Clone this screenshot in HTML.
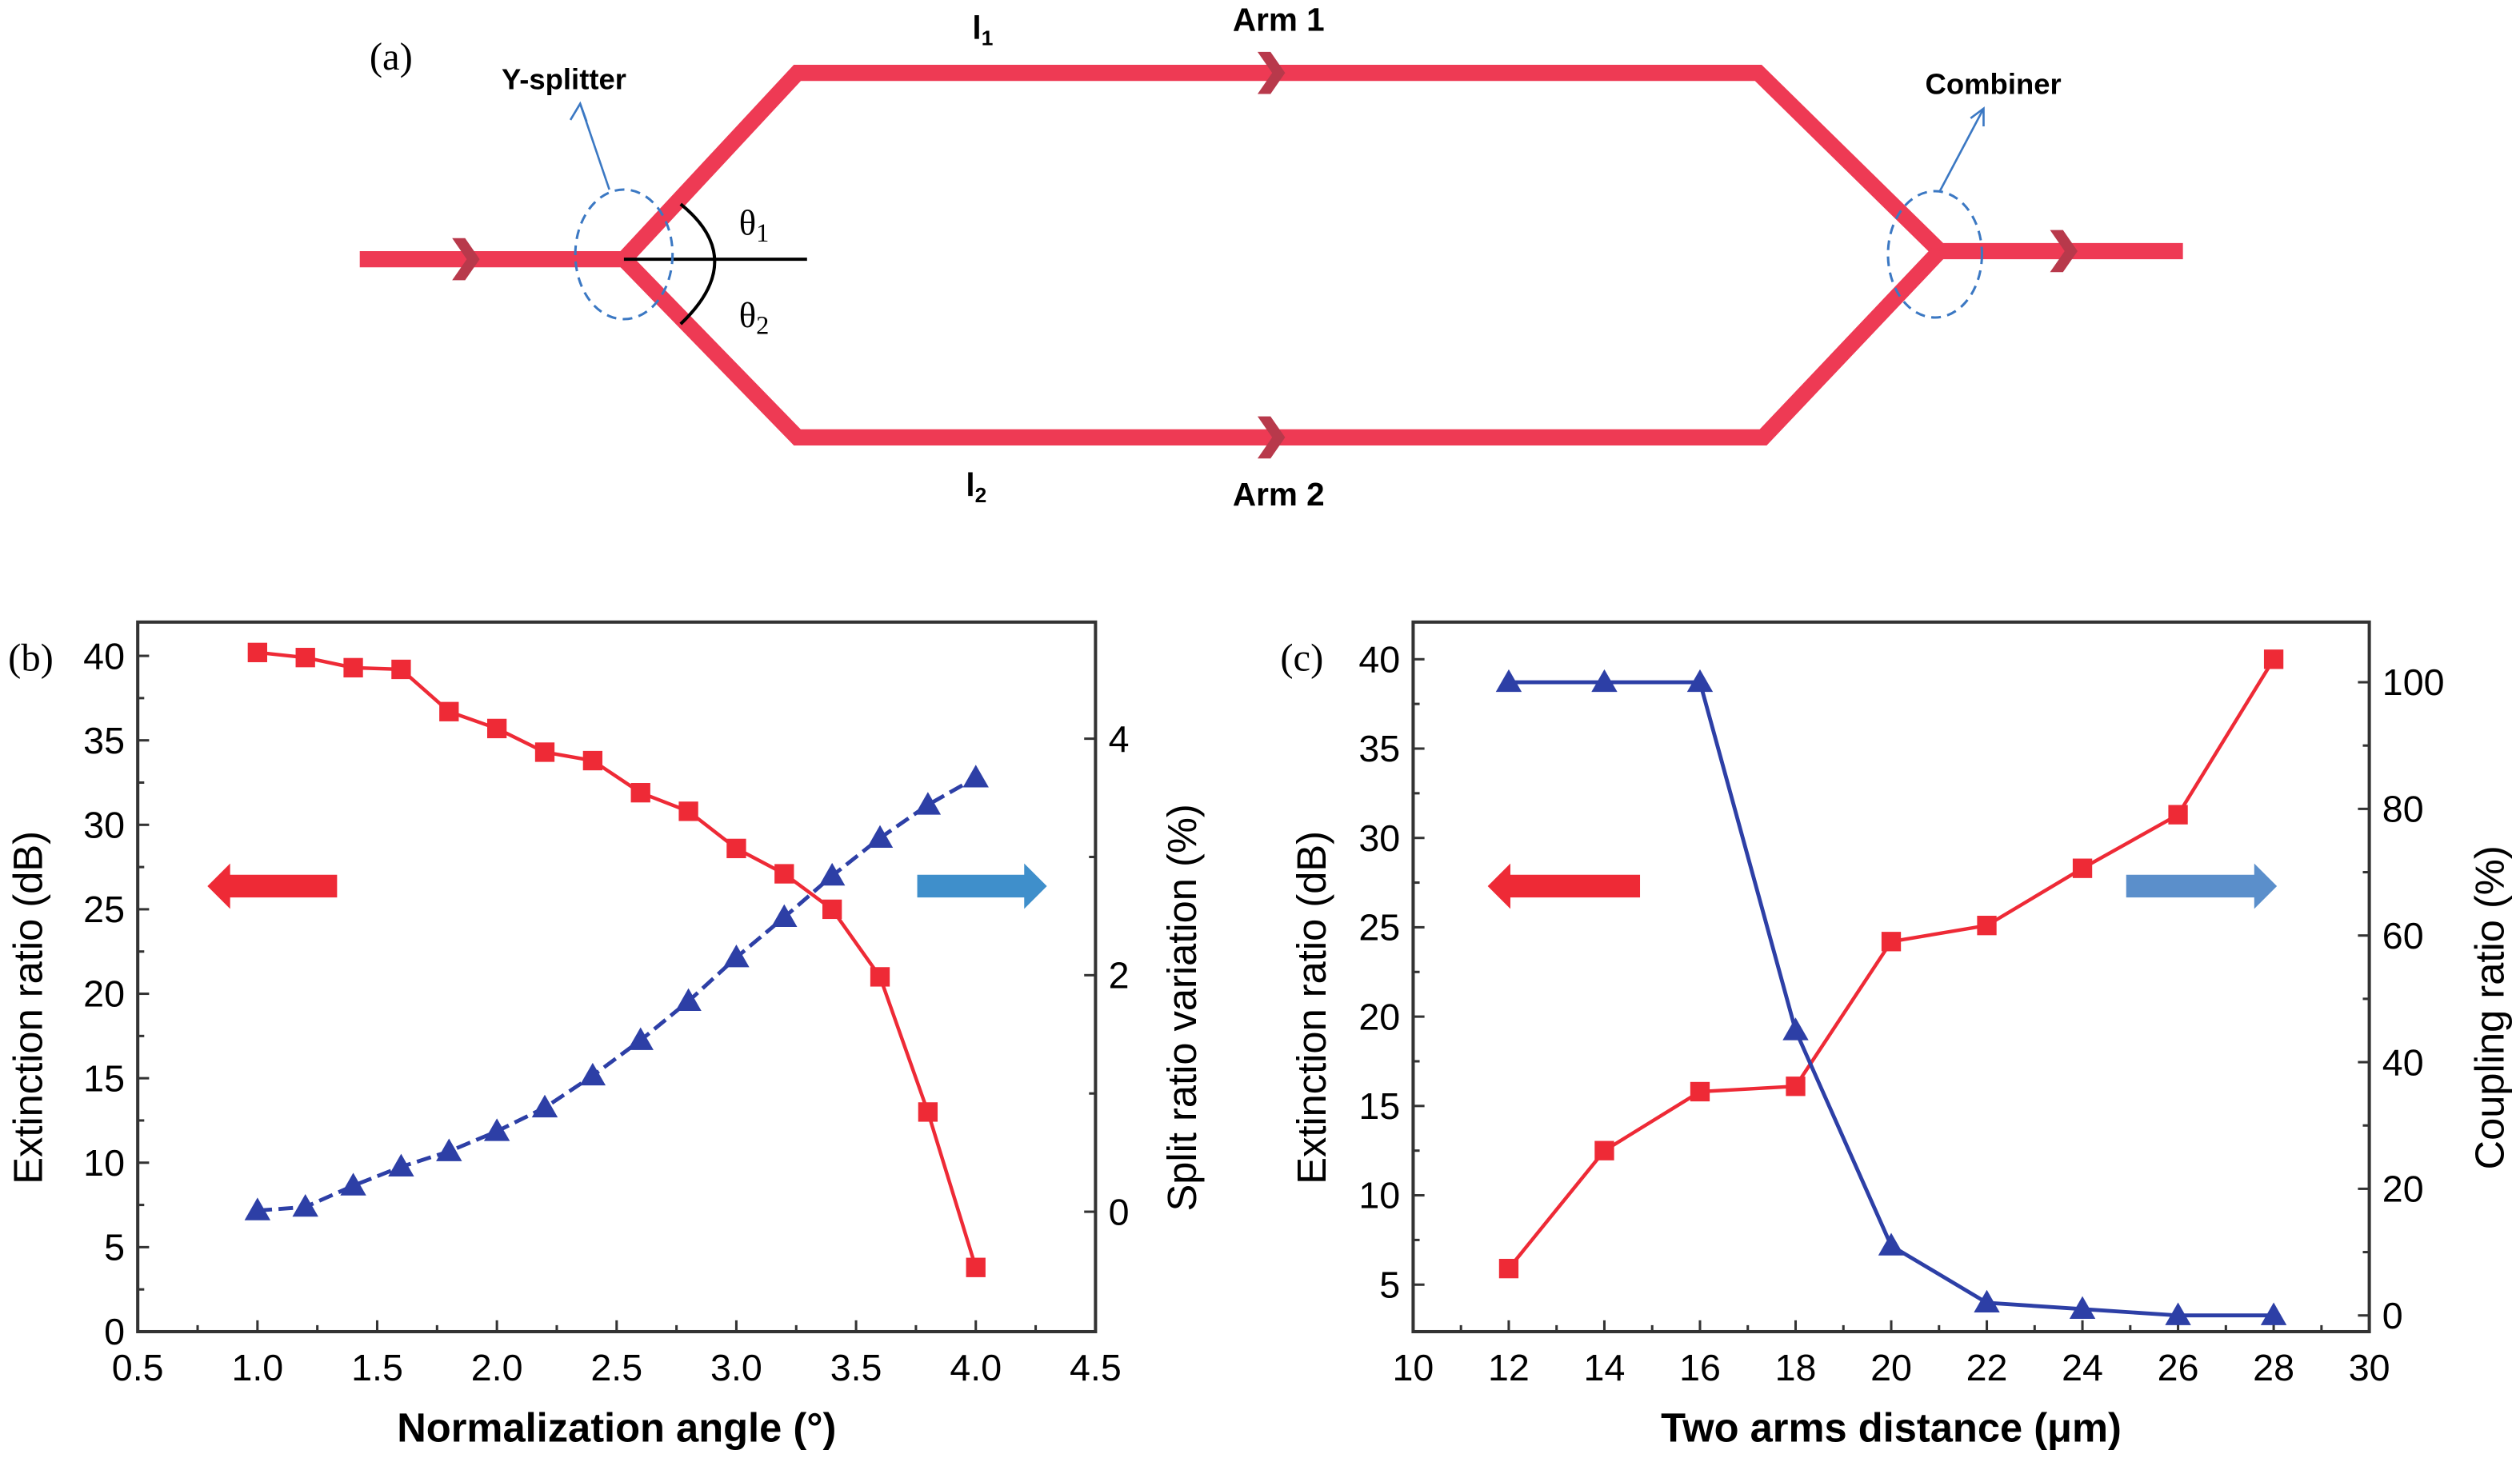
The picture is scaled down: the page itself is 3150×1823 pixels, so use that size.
<!DOCTYPE html>
<html><head><meta charset="utf-8"><style>
html,body{margin:0;padding:0;background:#fff;}
svg{display:block;}
text{font-family:"Liberation Sans Narrow","Liberation Sans",sans-serif;}
.serif{font-family:"Liberation Serif",serif;}
</style></head><body>
<svg id="fig" width="3150" height="1823" viewBox="0 0 1555 900" preserveAspectRatio="none" xmlns="http://www.w3.org/2000/svg">
<g id="diagram">
  <text class="serif" x="228" y="43" font-size="24">(a)</text>
  <polyline points="222,160 385,160 492,45 1085,45 1197,155 1347,155" fill="none" stroke="#ee3a54" stroke-width="10" stroke-linejoin="miter"/>
  <polyline points="385,160 492,270 1088,270 1197,155" fill="none" stroke="#ee3a54" stroke-width="10"/>
  <g fill="#b8394b">
    <polygon points="279,147 287,147 296,160 287,173 279,173 288,160"/>
    <polygon points="776,32 784,32 793,45 784,58 776,58 785,45"/>
    <polygon points="776,257 784,257 793,270 784,283 776,283 785,270"/>
    <polygon points="1265,142 1273,142 1282,155 1273,168 1265,168 1274,155"/>
  </g>
  <line x1="385" y1="160" x2="498" y2="160" stroke="#000" stroke-width="2"/>
  <path d="M420,126 Q462,160 420,200" fill="none" stroke="#000" stroke-width="2"/>
  <text class="serif" x="456" y="145" font-size="22">θ<tspan font-size="16" dy="4">1</tspan></text>
  <text class="serif" x="456" y="202" font-size="22">θ<tspan font-size="16" dy="4">2</tspan></text>
  <ellipse cx="385" cy="157" rx="30" ry="40" fill="none" stroke="#3b78c3" stroke-width="1.5" stroke-dasharray="6,4"/>
  <ellipse cx="1194" cy="157" rx="29" ry="39" fill="none" stroke="#3b78c3" stroke-width="1.5" stroke-dasharray="6,4"/>
  <g stroke="#3b78c3" stroke-width="1.3" fill="none">
    <line x1="376" y1="117" x2="358" y2="64"/>
    <polyline points="352,74 358,64 362,75"/>
    <line x1="1197" y1="118" x2="1224" y2="67"/>
    <polyline points="1216,73 1224,67 1224,78"/>
  </g>
  <text x="348" y="55" font-size="18" font-weight="bold" text-anchor="middle">Y-splitter</text>
  <text x="1230" y="58" font-size="18" font-weight="bold" text-anchor="middle">Combiner</text>
  <text x="600" y="24" font-size="20" font-weight="bold">l<tspan font-size="13" dy="4">1</tspan></text>
  <text x="596" y="306" font-size="20" font-weight="bold">l<tspan font-size="13" dy="4">2</tspan></text>
  <text x="789" y="19" font-size="20" font-weight="bold" text-anchor="middle">Arm 1</text>
  <text x="789" y="312" font-size="20" font-weight="bold" text-anchor="middle">Arm 2</text>
</g>
<g id="chartB"></g>
<g id="chartC"></g>
</svg>
<script>
// Panel (b) data
const bAngles = [1.0,1.2,1.4,1.6,1.8,2.0,2.2,2.4,2.6,2.8,3.0,3.2,3.4,3.6,3.8,4.0];
const bExtinction = [40.2,39.9,39.3,39.2,36.7,35.7,34.3,33.8,31.9,30.8,28.6,27.1,25.0,21.0,13.0,3.8];
const bSplitVar = [0.01,0.04,0.22,0.38,0.51,0.68,0.88,1.15,1.45,1.78,2.15,2.49,2.84,3.16,3.44,3.67];
const bXTicks = [0.5,1.0,1.5,2.0,2.5,3.0,3.5,4.0,4.5];
const bYTicks = [0,5,10,15,20,25,30,35,40];
const bY2Ticks = [0,2,4];
// Panel (c) data
const cDist = [12,14,16,18,20,22,24,26,28];
const cExtinction = [5.9,12.5,15.8,16.1,24.2,25.1,28.3,31.3,40.0];
const cCoupling = [100,100,100,45,11,2,1,0,0];
const cXTicks = [10,12,14,16,18,20,22,24,26,28,30];
const cYTicks = [5,10,15,20,25,30,35,40];
const cY2Ticks = [0,20,40,60,80,100];

const NS='http://www.w3.org/2000/svg';
function mk(parent,tag,attrs){const e=document.createElementNS(NS,tag);for(const k in attrs)e.setAttribute(k,attrs[k]);parent.appendChild(e);return e;}
function lin(d0,d1,r0,r1){return v=>r0+(v-d0)*(r1-r0)/(d1-d0);}

function drawChart(g,o){
  const x=lin(o.xd[0],o.xd[1],o.L,o.R), y=lin(o.yd[0],o.yd[1],o.B,o.T), y2=lin(o.y2d[0],o.y2d[1],o.B,o.T);
  const box=mk(g,'rect',{x:o.L,y:o.T,width:o.R-o.L,height:o.B-o.T,fill:'none',stroke:'#333',"stroke-width":2});
  
  
  o.xt.forEach((v,i)=>{
    const px=x(v);
    mk(g,'line',{x1:px,y1:o.B,x2:px,y2:o.B-7,stroke:'#333','stroke-width':1.5});
    if(i<o.xt.length-1){const m=x(v+(o.xt[1]-o.xt[0])/2);mk(g,'line',{x1:m,y1:o.B,x2:m,y2:o.B-4,stroke:'#333','stroke-width':1.5});}
    const t=mk(g,'text',{x:px,y:o.B+30,'font-size':23,'text-anchor':'middle'});t.textContent=o.xfmt(v);
    
    
  });
  o.yt.forEach((v,i)=>{
    const py=y(v);
    mk(g,'line',{x1:o.L,y1:py,x2:o.L+7,y2:py,stroke:'#333','stroke-width':1.5});
    const m=y(v+(o.yt[1]-o.yt[0])/2); if(m>o.T) mk(g,'line',{x1:o.L,y1:m,x2:o.L+4,y2:m,stroke:'#333','stroke-width':1.5});
    const t=mk(g,'text',{x:o.L-8,y:py+8,'font-size':23,'text-anchor':'end'});t.textContent=v;
    
    
  });
  o.y2t.forEach((v,i)=>{
    const py=y2(v);
    mk(g,'line',{x1:o.R,y1:py,x2:o.R-7,y2:py,stroke:'#333','stroke-width':1.5});
    const m=y2(v+(o.y2t[1]-o.y2t[0])/2); if(m>o.T) mk(g,'line',{x1:o.R,y1:m,x2:o.R-4,y2:m,stroke:'#333','stroke-width':1.5});
    const t=mk(g,'text',{x:o.R+8,y:py+8,'font-size':23,'text-anchor':'start'});t.textContent=v;
    
    
  });
  const redPts=o.xs.map((v,i)=>x(v)+','+y(o.s1[i])).join(' ');
  const rl=mk(g,'polyline',{points:redPts,fill:'none',stroke:'#ee2a36','stroke-width':2.2});
  
  
  const bluePts=o.xs.map((v,i)=>x(v)+','+y2(o.s2[i])).join(' ');
  const bl=mk(g,'polyline',{points:bluePts,fill:'none',stroke:'#2d3fa6','stroke-width':2.4});
  if(o.dash) bl.setAttribute('stroke-dasharray','9,4');
  
  
  o.xs.forEach((v,i)=>{
    const px=x(v),py=y(o.s1[i]);
    const r=mk(g,'rect',{x:px-6,y:py-6,width:12,height:12,fill:'#ee2a36'});
    
    
    const qy=y2(o.s2[i]);
    const p=mk(g,'polygon',{points:`${px},${qy-8} ${px-8},${qy+6} ${px+8},${qy+6}`,fill:'#2d3fa6'});
    
    
  });
  const ay=547;
  const ra=mk(g,'polygon',{points:`${o.ra[0]},${ay} ${o.ra[0]+14},${ay-14} ${o.ra[0]+14},${ay-7} ${o.ra[1]},${ay-7} ${o.ra[1]},${ay+7} ${o.ra[0]+14},${ay+7} ${o.ra[0]+14},${ay+14}`,fill:'#ee2a36'});
  
  
  const ba=mk(g,'polygon',{points:`${o.ba[1]},${ay} ${o.ba[1]-14},${ay-14} ${o.ba[1]-14},${ay-7} ${o.ba[0]},${ay-7} ${o.ba[0]},${ay+7} ${o.ba[1]-14},${ay+7} ${o.ba[1]-14},${ay+14}`,fill:o.bcol});
  
  
  const xt=mk(g,'text',{x:(o.L+o.R)/2,y:o.B+68,'font-size':25,'text-anchor':'middle','font-weight':'bold'});xt.textContent=o.xtitle;
  
  
  const yt=mk(g,'text',{x:0,y:0,'font-size':25,'text-anchor':'middle',transform:`translate(${o.yx},${o.ymid}) rotate(-90)`});yt.textContent=o.ytitle;
  
  
  const y2t=mk(g,'text',{x:0,y:0,'font-size':25,'text-anchor':'middle',transform:`translate(${o.y2x},${o.y2mid}) rotate(-90)`});y2t.textContent=o.y2title;
  
  
  const pl=mk(g,'text',{x:o.plx,y:414,'font-size':24,'class':'serif'});pl.textContent=o.plabel;
  
  
}

drawChart(document.getElementById('chartB'),{L:85,R:676,T:384,B:822,xd:[0.5,4.5],yd:[0,42.0],
  y2d:[-1.014,4.986],xt:bXTicks,yt:bYTicks,y2t:bY2Ticks,xs:bAngles,s1:bExtinction,s2:bSplitVar,dash:true,
  xfmt:v=>v.toFixed(1),ra:[128,208],ba:[566,646],bcol:'#3f8fcb',
  xtitle:'Normalization angle (°)',ytitle:'Extinction ratio (dB)',y2title:'Split ratio variation (%)',yx:26,y2x:738,ymid:622,y2mid:622,plx:5,plabel:'(b)'});
drawChart(document.getElementById('chartC'),{L:872,R:1462,T:384,B:822,xd:[10,30],yd:[2.37,42.08],
  y2d:[-2.56,109.5],xt:cXTicks,yt:cYTicks,y2t:cY2Ticks,xs:cDist,s1:cExtinction,s2:cCoupling,dash:false,
  xfmt:v=>String(v),ra:[918,1012],ba:[1312,1405],bcol:'#5b8fcb',
  xtitle:'Two arms distance (μm)',ytitle:'Extinction ratio (dB)',y2title:'Coupling ratio (%)',yx:818,y2x:1545,ymid:622,y2mid:622,plx:790,plabel:'(c)'});
</script>
</body></html>
